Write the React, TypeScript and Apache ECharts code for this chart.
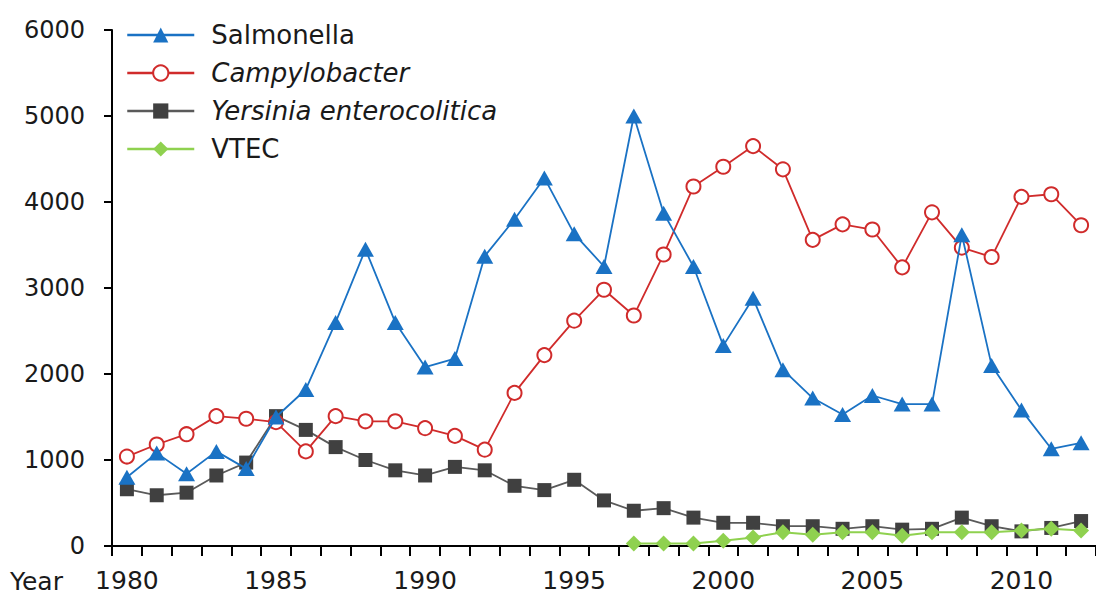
import React, { useEffect, useRef } from "react";
import * as echarts from "echarts";

const years = [
  "1980", "1981", "1982", "1983", "1984", "1985", "1986", "1987", "1988", "1989",
  "1990", "1991", "1992", "1993", "1994", "1995", "1996", "1997", "1998", "1999",
  "2000", "2001", "2002", "2003", "2004", "2005", "2006", "2007", "2008", "2009",
  "2010", "2011", "2012",
];

const salmonella = [
  800, 1080, 840, 1100, 900, 1500, 1820, 2600, 3450, 2600,
  2080, 2180, 3370, 3800, 4280, 3630, 3250, 5000, 3870, 3250,
  2330, 2880, 2050, 1720, 1530, 1750, 1650, 1650, 3620, 2100,
  1580, 1130, 1200,
];

const campylobacter = [
  1040, 1180, 1300, 1510, 1480, 1440, 1100, 1510, 1450, 1450,
  1370, 1280, 1120, 1780, 2220, 2620, 2980, 2680, 3390, 4180,
  4410, 4650, 4380, 3560, 3740, 3680, 3240, 3880, 3470, 3360,
  4060, 4090, 3730,
];

const yersinia = [
  660, 590, 620, 820, 970, 1510, 1350, 1150, 1000, 880,
  820, 920, 880, 700, 650, 770, 530, 410, 440, 330,
  270, 270, 230, 230, 200, 230, 190, 200, 330, 230,
  170, 210, 290,
];

const vtec = [
  null, null, null, null, null, null, null, null, null, null,
  null, null, null, null, null, null, null, 30, 30, 30,
  60, 100, 160, 130, 160, 160, 120, 160, 160, 160,
  180, 200, 180,
];

const yTicks = { min: 0, max: 6000, interval: 1000 };

const FONT = "DejaVu Sans";
const TEXT = "#1a1a1a";

export default function App() {
  const ref = useRef<HTMLDivElement>(null);
  useEffect(() => {
    const chart = echarts.init(ref.current!, null, { renderer: "svg" });
    chart.setOption({
      animation: false,
      backgroundColor: "#ffffff",
      textStyle: { fontFamily: FONT },
      grid: { left: 112, top: 30, width: 990, height: 516, containLabel: false },
      legend: {
        orient: "vertical",
        left: 121,
        top: 17,
        itemWidth: 67,
        itemHeight: 19,
        itemGap: 12,
        selectedMode: false,
        lineStyle: { width: 2.5 },
        textStyle: {
          fontFamily: FONT,
          fontSize: 26,
          color: TEXT,
          lineHeight: 26,
          padding: [0, 0, 0, 12],
          rich: {
            i: { fontFamily: FONT, fontSize: 26, fontStyle: "italic", color: TEXT, lineHeight: 26 },
          },
        },
        formatter: (name: string) =>
          name === "Campylobacter" || name === "Yersinia enterocolitica" ? `{i|${name}}` : name,
        data: ["Salmonella", "Campylobacter", "Yersinia enterocolitica", "VTEC"],
      },
      xAxis: {
        type: "category",
        data: years,
        boundaryGap: true,
        axisLine: { lineStyle: { color: "#000", width: 2 } },
        axisTick: { show: true, interval: 0, length: 10, lineStyle: { color: "#000", width: 2 } },
        axisLabel: {
          interval: (idx: number) => idx % 5 === 0,
          margin: 22,
          fontFamily: FONT,
          fontSize: 25,
          color: TEXT,
        },
        splitLine: { show: false },
      },
      yAxis: {
        type: "value",
        min: yTicks.min,
        max: yTicks.max,
        interval: yTicks.interval,
        axisLine: { show: true, lineStyle: { color: "#000", width: 2 } },
        axisTick: { show: true, length: 8, lineStyle: { color: "#000", width: 2 } },
        axisLabel: {
          margin: 27,
          fontFamily: FONT,
          fontSize: 24,
          color: TEXT,
          formatter: (v: number) => String(v),
        },
        splitLine: { show: false },
      },
      graphic: [
        {
          type: "text",
          left: 10,
          top: 569,
          style: { text: "Year", font: `25px "${FONT}"`, fill: TEXT },
        },
      ],
      series: [
        {
          name: "Salmonella",
          type: "line",
          data: salmonella,
          symbol: "triangle",
          symbolSize: [17, 15],
          lineStyle: { color: "#1a72c4", width: 1.8 },
          itemStyle: { color: "#1a72c4" },
          z: 4,
        },
        {
          name: "Campylobacter",
          type: "line",
          data: campylobacter,
          symbol: "circle",
          symbolSize: 14,
          lineStyle: { color: "#d02b2b", width: 1.8 },
          itemStyle: { color: "#ffffff", borderColor: "#d02b2b", borderWidth: 2 },
          z: 3,
        },
        {
          name: "Yersinia enterocolitica",
          type: "line",
          data: yersinia,
          symbol: "rect",
          symbolSize: 14,
          lineStyle: { color: "#5a5a5a", width: 1.8 },
          itemStyle: { color: "#404040" },
          z: 2,
        },
        {
          name: "VTEC",
          type: "line",
          data: vtec,
          symbol: "diamond",
          symbolSize: 16,
          lineStyle: { color: "#8fd14f", width: 2 },
          itemStyle: { color: "#8fd14f" },
          z: 5,
        },
      ],
    });
    return () => chart.dispose();
  }, []);
  return (
    <div
      ref={ref}
      style={{ position: "fixed", left: 0, top: 0, width: 1096, height: 596, background: "#fff" }}
    />
  );
}
